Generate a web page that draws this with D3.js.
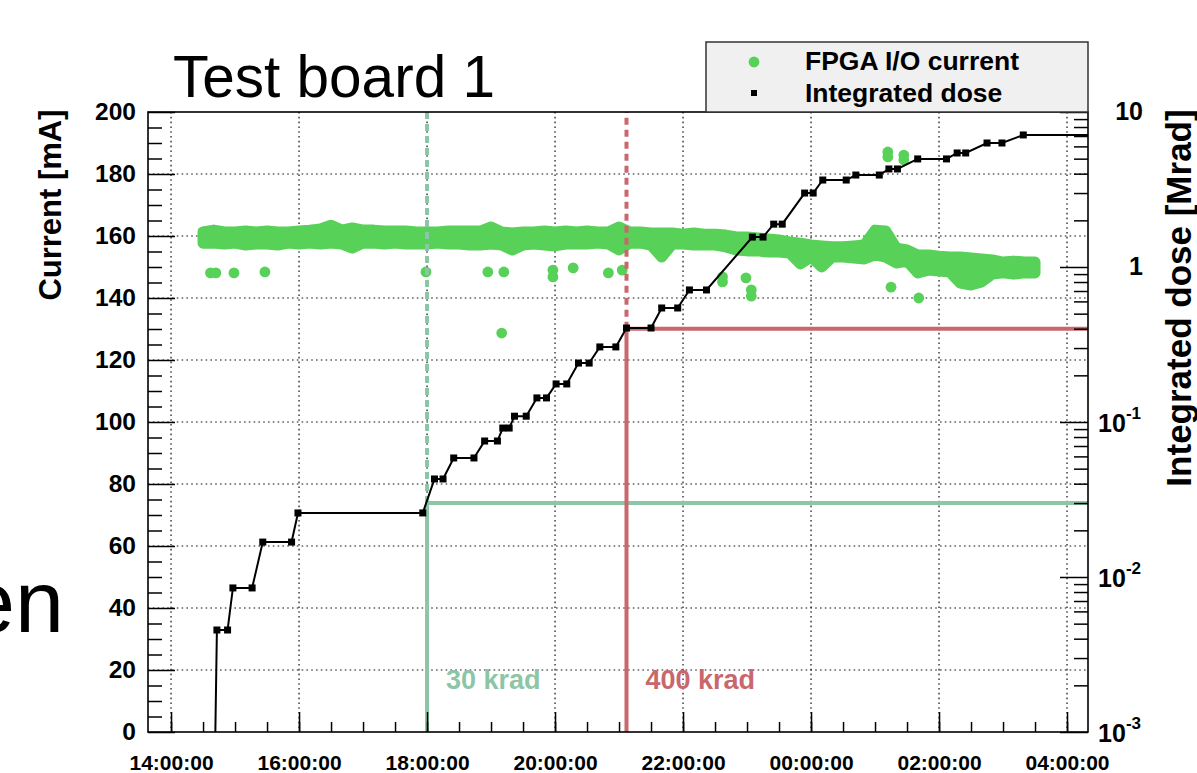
<!DOCTYPE html>
<html><head><meta charset="utf-8">
<script src="https://cdn.jsdelivr.net/npm/d3@7"></script>
<style>
body{margin:0;background:#fff;}
svg{display:block;}
text{font-family:"Liberation Sans",Arial,Helvetica,sans-serif;}
</style>
</head><body>
<svg id="c" width="1197" height="773"></svg>
<script>
// ---------------- data ----------------
// dense FPGA I/O current band, 10-minute columns: upper and lower dot values [mA]
const bandTimes = ["14:30","14:40","14:50","15:00","15:10","15:20","15:30","15:40","15:50","16:00",
  "16:10","16:20","16:30","16:40","16:50","17:00","17:10","17:20","17:30","17:40","17:50","18:00",
  "18:10","18:20","18:30","18:40","18:50","19:00","19:10","19:20","19:30","19:40","19:50","20:00",
  "20:10","20:20","20:30","20:40","20:50","21:00","21:10","21:20","21:30","21:40","21:50","22:00",
  "22:10","22:20","22:30","22:40","22:50","23:00","23:10","23:20","23:30","23:40","23:50","00:00",
  "00:10","00:20","00:30","00:40","00:50","01:00","01:10","01:20","01:30","01:40","01:50","02:00",
  "02:10","02:20","02:30","02:40","02:50","03:00","03:10","03:20","03:30"];
const bandHigh = [161.3,161.9,161.3,161.3,161.6,161.3,161.6,161.3,161.3,161.6,
  161.9,162.3,163.5,161.9,162.6,161.9,161.9,161.6,161.6,161.6,161.3,161.3,
  161.3,161.6,161.6,161.6,161.6,162.9,161.3,161.0,161.3,161.3,161.6,161.3,
  161.6,161.3,161.6,161.3,161.3,162.9,161.3,161.3,161.0,161.0,161.0,160.6,
  161.0,160.6,160.6,160.3,159.7,159.7,159.4,159.0,158.7,158.1,157.7,157.1,
  156.8,156.5,156.5,156.8,157.1,161.9,161.6,156.1,155.5,153.9,153.9,153.5,
  153.2,153.2,152.9,152.6,152.3,151.6,151.9,151.6,151.6];
const bandLow = [157.7,157.7,157.4,157.7,157.1,157.4,157.4,157.1,157.7,157.4,
  157.7,157.4,157.7,157.4,156.1,157.7,157.7,157.4,157.7,157.4,157.4,157.4,
  157.7,157.4,157.4,157.1,157.1,157.4,157.1,155.5,157.1,157.4,157.1,156.8,
  157.4,157.4,157.4,157.7,157.4,155.5,157.7,157.7,157.1,153.2,157.4,157.4,
  157.1,157.1,157.1,156.5,155.5,155.2,155.2,154.8,154.8,154.5,151.0,153.2,
  150.0,153.2,153.2,152.9,152.6,153.9,153.2,151.3,151.9,148.1,149.0,148.7,
  148.4,144.8,144.2,145.2,147.7,148.1,147.7,148.1,148.1];
// isolated current readings [mA]
const outlierTimes = ["14:37","14:42","14:59","15:28","17:59","18:57","19:12","19:10","19:58","19:58",
  "20:17","20:50","21:03","22:37","22:37","22:59","23:04","23:04","01:15","01:41",
  "01:12","01:12","01:27","01:27"];
const outlierValues = [148.1,148.1,148.1,148.4,148.4,148.4,148.4,128.7,149.0,146.8,
  149.7,148.1,149.0,146.8,145.2,146.5,142.6,140.6,143.5,140.0,
  187.1,185.5,186.1,184.5];
// integrated dose [Mrad]
const doseTimes = ["14:40","14:43","14:53","14:58","15:16","15:26","15:53","15:59","17:56","18:07",
  "18:15","18:25","18:44","18:54","19:06","19:11","19:17","19:22","19:33","19:43","19:52","20:01",
  "20:11","20:22","20:32","20:42","20:57","21:07","21:30","21:40","21:55","22:06","22:22","23:05",
  "23:15","23:25","23:33","23:54","00:02","00:11","00:33","00:42","01:04","01:13","01:21","01:40",
  "02:07","02:17","02:25","02:45","02:59","03:19","04:40"];
const doseValues = [0.0002,0.00455,0.00455,0.0085,0.0085,0.0168,0.0168,0.0259,0.0259,0.0429,
  0.0429,0.0586,0.0586,0.0754,0.0754,0.0914,0.0914,0.109,0.109,0.143,0.143,0.176,
  0.176,0.240,0.240,0.305,0.305,0.404,0.404,0.544,0.544,0.711,0.711,1.56,
  1.56,1.89,1.89,3.00,3.00,3.64,3.64,3.92,3.92,4.29,4.29,4.98,
  4.98,5.44,5.44,6.31,6.31,7.11,7.11];
// dose thresholds
const thresholdTimes = ["18:00","21:07"];
const thresholdDoses = [0.03,0.4];
const thresholdLabels = ["30 krad","400 krad"];
const thresholdColors = ["#8cc6a6","#c9676c"];
// axes
const currentTicks = [0,20,40,60,80,100,120,140,160,180,200];
const doseTicks = [1e-3,1e-2,1e-1,1,10];
const doseTickLabels = [["10","-3"],["10","-2"],["10","-1"],["1",""],["10",""]];
const legendLabels = ["FPGA I/O current","Integrated dose"];
const titleText = "Test board 1";

// ---------------- helpers ----------------
function T(s){
  const p = s.split(":").map(Number);
  const day = p[0] < 12 ? 2 : 1;
  return new Date(2000,0,day,p[0],p[1],p[2]||0);
}
const green = "#57d157";
const FONT = '"Liberation Sans",Arial,Helvetica,sans-serif';

const L = 148, R = 1088, TOP = 112, BOT = 732;
const svg = d3.select("#c");

const x = d3.scaleTime().domain([T("13:38:24"), T("04:19:40")]).range([L, R]);
const yL = d3.scaleLinear().domain([0,200]).range([BOT, TOP]);
const yR = d3.scaleLog().domain([1e-3,10]).range([BOT, TOP]);

svg.append("defs").append("clipPath").attr("id","clip")
  .append("rect").attr("x",L).attr("y",TOP).attr("width",R-L).attr("height",BOT-TOP);

// slide overlay text
svg.append("text").attr("x",173).attr("y",97).attr("font-size",58.5)
  .attr("fill","#000").text(titleText);
svg.append("text").attr("x",64).attr("y",632).attr("font-size",88).attr("text-anchor","end")
  .attr("fill","#000").text("en");

// grid
const majorTimes = x.ticks(d3.timeHour.every(2));
const grid = svg.append("g").attr("stroke","#111").attr("stroke-width",1.2).attr("stroke-dasharray","1.6,3.2");
grid.selectAll("line.v").data(majorTimes).join("line")
  .attr("x1",d=>x(d)).attr("x2",d=>x(d)).attr("y1",TOP).attr("y2",BOT);
grid.selectAll("line.h").data(currentTicks.filter(v=>v>0&&v<200)).join("line")
  .attr("x1",L).attr("x2",R).attr("y1",d=>yL(d)).attr("y2",d=>yL(d));

const plot = svg.append("g").attr("clip-path","url(#clip)");

// current band (dense scatter): envelope of the dots, with dot-radius rounding
const bandData = bandTimes.map((t,i)=>({t:T(t),hi:bandHigh[i],lo:bandLow[i]}));
plot.append("path").datum(bandData)
  .attr("fill",green).attr("stroke",green).attr("stroke-width",11)
  .attr("stroke-linejoin","round").attr("stroke-linecap","round")
  .attr("d",d3.area().x(d=>x(d.t)).y0(d=>yL(d.lo)).y1(d=>yL(d.hi)));
plot.append("g").attr("fill",green).selectAll("circle").data(outlierTimes).join("circle")
  .attr("cx",d=>x(T(d))).attr("cy",(d,i)=>yL(outlierValues[i])).attr("r",5.4);

// thresholds
thresholdTimes.forEach((t,i)=>{
  const tx = x(T(t)), ty = yR(thresholdDoses[i]);
  const g = plot.append("g").attr("stroke",thresholdColors[i]).attr("stroke-width",4);
  g.append("line").attr("x1",tx).attr("x2",tx).attr("y1",BOT).attr("y2",ty);
  g.append("line").attr("x1",tx).attr("x2",tx).attr("y1",ty).attr("y2",TOP).attr("stroke-dasharray","7,5");
  g.append("line").attr("x1",tx).attr("x2",R).attr("y1",ty).attr("y2",ty);
  svg.append("text").attr("x",tx+19).attr("y",689).attr("font-size",27).attr("font-weight","bold")
    .attr("fill",thresholdColors[i]).text(thresholdLabels[i]);
});

// dose line
const doseData = doseTimes.map((t,i)=>[T(t),doseValues[i]]);
plot.append("path").datum(doseData)
  .attr("fill","none").attr("stroke","#000").attr("stroke-width",2)
  .attr("d",d3.line().x(d=>x(d[0])).y(d=>yR(d[1])));
plot.append("g").selectAll("rect").data(doseData.slice(1,-1)).join("rect")
  .attr("x",d=>x(d[0])-3.5).attr("y",d=>yR(d[1])-3.5).attr("width",7).attr("height",7).attr("fill","#000");

// axes ticks (inward)
function styleAxis(g){ g.select(".domain").remove(); g.selectAll("line").attr("stroke","#000").attr("stroke-width",1.5); }
const minorCurrent = d3.range(0,201,5).filter(v=>v%20!==0);
svg.append("g").attr("transform",`translate(${L},0)`)
  .call(d3.axisRight(yL).tickValues(minorCurrent).tickSize(14).tickFormat("")).call(styleAxis);
svg.append("g").attr("transform",`translate(${L},0)`)
  .call(d3.axisRight(yL).tickValues(currentTicks).tickSize(27).tickFormat("")).call(styleAxis);
// left labels
const lab = svg.append("g").attr("transform",`translate(${L},0)`)
  .call(d3.axisLeft(yL).tickValues(currentTicks).tickSize(0).tickPadding(12));
lab.select(".domain").remove();
lab.selectAll("text").attr("font-family",FONT).attr("font-size",24.5).attr("font-weight","bold").attr("fill","#000");

// bottom ticks
svg.append("g").attr("transform",`translate(0,${BOT})`)
  .call(d3.axisTop(x).ticks(d3.timeMinute.every(30)).tickSize(10).tickFormat("")).call(styleAxis);
svg.append("g").attr("transform",`translate(0,${BOT})`)
  .call(d3.axisTop(x).tickValues(majorTimes).tickSize(20).tickFormat("")).call(styleAxis);
const bl = svg.append("g").attr("transform",`translate(0,${BOT})`)
  .call(d3.axisBottom(x).tickValues(majorTimes).tickSize(0).tickPadding(23).tickFormat(d3.timeFormat("%H:%M:%S")));
bl.select(".domain").remove();
bl.selectAll("text").attr("font-family",FONT).attr("font-size",21).attr("font-weight","bold").attr("fill","#000");

// right log axis
const minorDose = [];
[1e-3,1e-2,1e-1,1].forEach(d=>{ for(let k=2;k<=9;k++) minorDose.push(d*k); });
svg.append("g").attr("transform",`translate(${R},0)`)
  .call(d3.axisLeft(yR).tickValues(minorDose).tickSize(14).tickFormat("")).call(styleAxis);
svg.append("g").attr("transform",`translate(${R},0)`)
  .call(d3.axisLeft(yR).tickValues(doseTicks).tickSize(28).tickFormat("")).call(styleAxis);
const rl = svg.append("g").attr("transform",`translate(${R},0)`)
  .call(d3.axisRight(yR).tickValues(doseTicks).tickSize(0).tickFormat(""));
rl.select(".domain").remove();
rl.selectAll(".tick").each(function(d,i){
  const lbl = doseTickLabels[i];
  const t = d3.select(this).append("text").attr("x",lbl[1]?53:55).attr("y",lbl[1]?6:4).attr("dy","0.35em")
    .attr("text-anchor","end").attr("font-family",FONT).attr("font-weight","bold").attr("fill","#000");
  t.append("tspan").attr("font-size",25).text(lbl[0]);
  if(lbl[1]) t.append("tspan").attr("font-size",17).attr("dy","-0.75em").text(lbl[1]);
});

// frame
svg.append("rect").attr("x",L).attr("y",TOP).attr("width",R-L).attr("height",BOT-TOP)
  .attr("fill","none").attr("stroke","#000").attr("stroke-width",1.6);

// axis titles
svg.append("text").attr("transform","translate(61,205) rotate(-90)").attr("text-anchor","middle")
  .attr("font-size",31).attr("font-weight","bold").text("Current [mA]");
svg.append("text").attr("transform","translate(1191,298) rotate(-90)").attr("text-anchor","middle")
  .attr("font-size",35).attr("font-weight","bold").text("Integrated dose [Mrad]");

// legend
const lg = svg.append("g");
lg.append("rect").attr("x",706).attr("y",42).attr("width",R-706).attr("height",TOP-42)
  .attr("fill","#f0f0f0").attr("stroke","#333").attr("stroke-width",1.5);
lg.append("circle").attr("cx",754).attr("cy",62).attr("r",5.4).attr("fill",green);
lg.append("rect").attr("x",751).attr("y",90).attr("width",6).attr("height",6).attr("fill","#000");
lg.append("text").attr("x",805).attr("y",70).attr("font-size",26.5).attr("font-weight","bold").text(legendLabels[0]);
lg.append("text").attr("x",805).attr("y",102).attr("font-size",26.5).attr("font-weight","bold").text(legendLabels[1]);
</script>
</body></html>
